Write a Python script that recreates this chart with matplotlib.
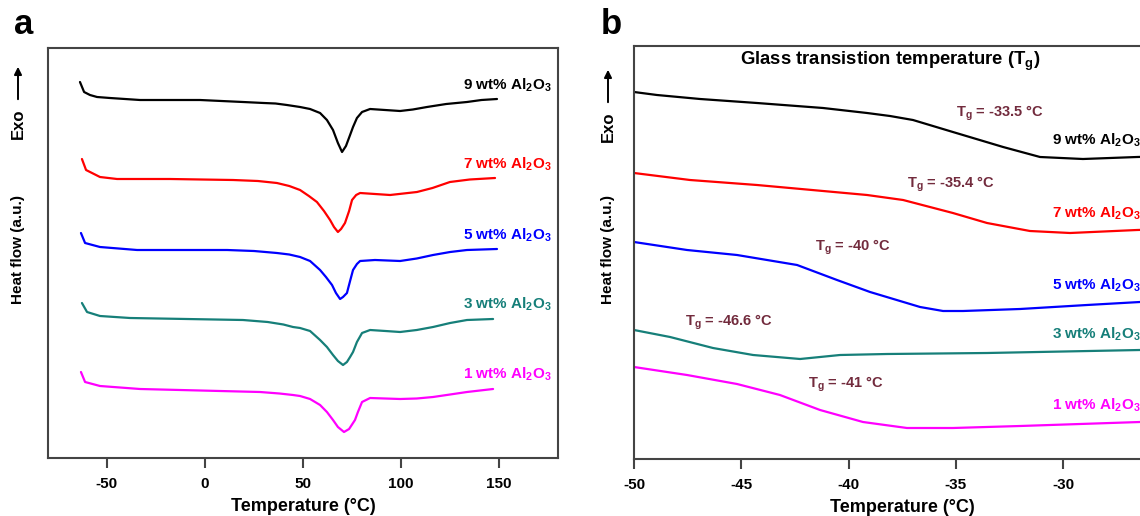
import matplotlib
matplotlib.use('Agg')
import matplotlib.pyplot as plt

plt.rcParams['font.family'] = ['Liberation Sans', 'DejaVu Sans']
plt.rcParams['font.weight'] = 'bold'
plt.rcParams['axes.unicode_minus'] = False
plt.rcParams['mathtext.fontset'] = 'custom'
plt.rcParams['mathtext.rm'] = 'Liberation Sans:bold'
plt.rcParams['mathtext.it'] = 'Liberation Sans:bold'
plt.rcParams['mathtext.bf'] = 'Liberation Sans:bold'

# ---- panel a : full DSC scans (heat flow in a.u., curves stacked) ----
t_9 = [-63.7, -61.6, -58.6, -55, -48.4, -33.1, -2.5, 19.4, 30, 36, 41.8, 48.5, 53.6, 58.7, 62.2, 65.3,
       67.8, 69.9, 71.9, 74, 75.5, 77.5, 80.1, 84.2, 91.8, 99.5, 106, 113.2, 123, 133.6, 141, 148.9]
hf_9 = [376, 366, 363, 361, 360, 358, 358, 356, 355, 354.5, 353, 351, 349, 345, 338, 328,
        315, 306, 312, 323, 331, 340, 346, 349, 348, 347, 348.5, 351, 354, 356, 358, 359]

t_7 = [-62.7, -60.6, -53.5, -44.8, -17.8, 14.3, 27, 36.7, 43, 48.5, 53, 57.1, 60.7, 63.8, 65.8, 67.8, 69.4,
       71.4, 73.5, 75.0, 77.1, 79.1, 86.7, 94.4, 108.1, 116, 124.9, 135, 147.9]
hf_7 = [299, 288, 281, 279, 279, 278, 277, 275, 272, 268, 262, 256, 247, 238, 231, 226, 229,
        235, 247, 258, 263, 265, 264, 263, 266, 270, 276, 278.5, 280]

t_5 = [-63.2, -61.1, -53.5, -34.6, 11.3, 25, 36.7, 43, 48.5, 53.6, 58.7, 61.7, 64.8, 66.8, 68.9, 70.4,
       72.4, 74.0, 75.5, 77.5, 79.1, 86.7, 99.5, 108, 116.3, 125, 133.6, 148.9]
hf_5 = [225, 215, 211, 208, 208, 207, 205, 203.5, 201, 197, 188, 181, 173, 165, 159, 161,
        165, 177, 188, 194, 197, 198, 197, 199.5, 203, 206, 208, 209]

t_3 = [-62.7, -60.1, -53.5, -38.2, 19.4, 32, 40, 44.9, 48.5, 53.6, 58.7, 62.2, 65.3, 67.8, 70.4, 72.4,
       74.0, 75.5, 77.5, 80.1, 84.2, 92, 99.5, 108, 116.3, 125, 133.6, 146.9]
hf_3 = [155, 146, 142, 140, 138, 136, 133.5, 131, 130, 127, 118, 111, 103, 97, 93, 96,
        101, 106, 116, 125, 128, 127, 126, 128, 131, 135, 138, 139]

t_1 = [-63.2, -61.1, -53.5, -33.1, 28.1, 38, 44.9, 48.5, 53.6, 58.7, 62.2, 65.3, 67.8, 70.9, 73.5,
       76.5, 78.0, 80.1, 84.2, 99.5, 108, 116.3, 125, 133.6, 146.9]
hf_1 = [86, 76, 72, 69, 66, 64.5, 63, 62, 59, 53, 46, 38, 31, 26, 29,
        38, 46, 56, 60, 59, 59.5, 61, 63.5, 66, 69]

# ---- panel b : glass transition region ----
tb_9 = [-50, -48.93, -46.92, -44.27, -41.19, -39.14, -38.07, -37.0, -35.14, -32.8, -31.08, -29.08, -26.56, -25]
hfb_9 = [367, 364, 360, 356, 351, 346, 343, 339, 327, 312, 302, 300, 302, 303]

tb_7 = [-50, -47.39, -44.27, -41.19, -39.14, -37.46, -35.14, -33.55, -31.55, -29.68, -26.56, -25]
hfb_7 = [286, 279, 274, 268, 264, 259, 246, 236, 228, 226, 229, 230]

tb_5 = [-50, -47.53, -45.2, -42.4, -40.54, -39.0, -36.67, -35.6, -34.67, -32.01, -28.89, -26.42, -25]
hfb_5 = [217, 209, 204, 194, 179, 167, 152, 148, 148, 150, 154, 157, 158]

tb_3 = [-50, -48.32, -46.32, -44.45, -42.26, -40.4, -38.21, -33.55, -26.42, -25]
hfb_3 = [129, 122, 111, 104, 100, 104, 105, 106, 109, 109]

tb_1 = [-50, -47.53, -45.2, -43.2, -41.33, -39.33, -37.28, -35.14, -32.01, -26.42, -25]
hfb_1 = [92, 84, 75, 64, 49, 37, 31, 31, 33, 37, 38]

names = ['9 wt% Al$_2$O$_3$', '7 wt% Al$_2$O$_3$', '5 wt% Al$_2$O$_3$',
         '3 wt% Al$_2$O$_3$', '1 wt% Al$_2$O$_3$']
colors = ['black', '#ff0000', '#0000ff', '#167f79', '#ff00ff']

# label baselines (a.u.)
name_y_a = [368, 289, 218, 149, 79]
name_y_b = [314, 241, 169, 120, 49]

tg_text = ['T$_g$ = -33.5 °C', 'T$_g$ = -35.4 °C', 'T$_g$ = -40 °C', 'T$_g$ = -46.6 °C', 'T$_g$ = -41 °C']
tg_x = [-35.0, -37.28, -41.57, -47.62, -41.89]
tg_y = [342, 271, 208, 133, 71]
tg_color = '#722b3d'

fig = plt.figure(figsize=(11.4, 5.16), dpi=100)
W, H = 1140.0, 516.0
ax1 = fig.add_axes([48 / W, 1 - 458 / H, 510 / W, 410 / H])
ax2 = fig.add_axes([634 / W, 1 - 459 / H, 536.5 / W, 413 / H])

curves_a = [(t_9, hf_9), (t_7, hf_7), (t_5, hf_5), (t_3, hf_3), (t_1, hf_1)]
curves_b = [(tb_9, hfb_9), (tb_7, hfb_7), (tb_5, hfb_5), (tb_3, hfb_3), (tb_1, hfb_1)]

for i in range(5):
    ax1.plot(curves_a[i][0], curves_a[i][1], color=colors[i], lw=1.6,
             solid_joinstyle='round', solid_capstyle='round')
    ax1.text(177, name_y_a[i], names[i], color=colors[i], fontsize=11,
             fontweight='bold', ha='right', va='baseline')
    ax2.plot(curves_b[i][0], curves_b[i][1], color=colors[i], lw=1.6,
             solid_joinstyle='round')
    # right-hand labels run off the edge of the picture, as in the source figure
    ax2.text(-30.5, name_y_b[i], names[i], color=colors[i], fontsize=11,
             fontweight='bold', ha='left', va='baseline')
    ax2.text(tg_x[i], tg_y[i], tg_text[i], color=tg_color, fontsize=10.5,
             fontweight='bold', ha='left', va='baseline')

ax1.set_xlim(-80, 180)
ax1.set_ylim(0, 410)
ax1.set_xticks([-50, 0, 50, 100, 150])
ax2.set_xlim(-50, -25)
ax2.set_ylim(0, 413)
ax2.set_xticks([-50, -45, -40, -35, -30])

ax2.text(0.477, 0.962, 'Glass transistion temperature (T$_g$)', transform=ax2.transAxes,
         fontsize=13.3, fontweight='bold', ha='center', va='center')

for ax in (ax1, ax2):
    ax.set_yticks([])
    for s in ax.spines.values():
        s.set_color('#444444')
        s.set_linewidth(1.5)
    ax.tick_params(axis='x', direction='out', length=7, width=1.5, color='#444444',
                   labelsize=11, pad=7)
    for lab in ax.get_xticklabels():
        lab.set_fontweight('bold')
    ax.set_xlabel('Temperature (°C)', fontsize=13, fontweight='bold', labelpad=5)

# panel letters and y labels
for x0, letter in [(15, 'a'), (602, 'b')]:
    fig.text((x0 + 9) / W, 1 - 25 / H, letter, fontsize=25, fontweight='bold',
             ha='center', va='center')
for xc, ye in [(18, 124), (608, 127)]:
    fig.text(xc / W, 1 - 250 / H, 'Heat flow (a.u.)', rotation=90, fontsize=11,
             fontweight='bold', ha='center', va='center')
    fig.text(xc / W, 1 - ye / H, 'Exo', rotation=90, fontsize=12,
             fontweight='bold', ha='center', va='center')
    fig.patches.append(matplotlib.patches.FancyArrowPatch(
        (xc / W, 1 - (ye - 22) / H), (xc / W, 1 - (ye - 60) / H),
        transform=fig.transFigure, arrowstyle='-|>', mutation_scale=11,
        color='black', lw=1.4))

plt.savefig('out.png', dpi=100)
